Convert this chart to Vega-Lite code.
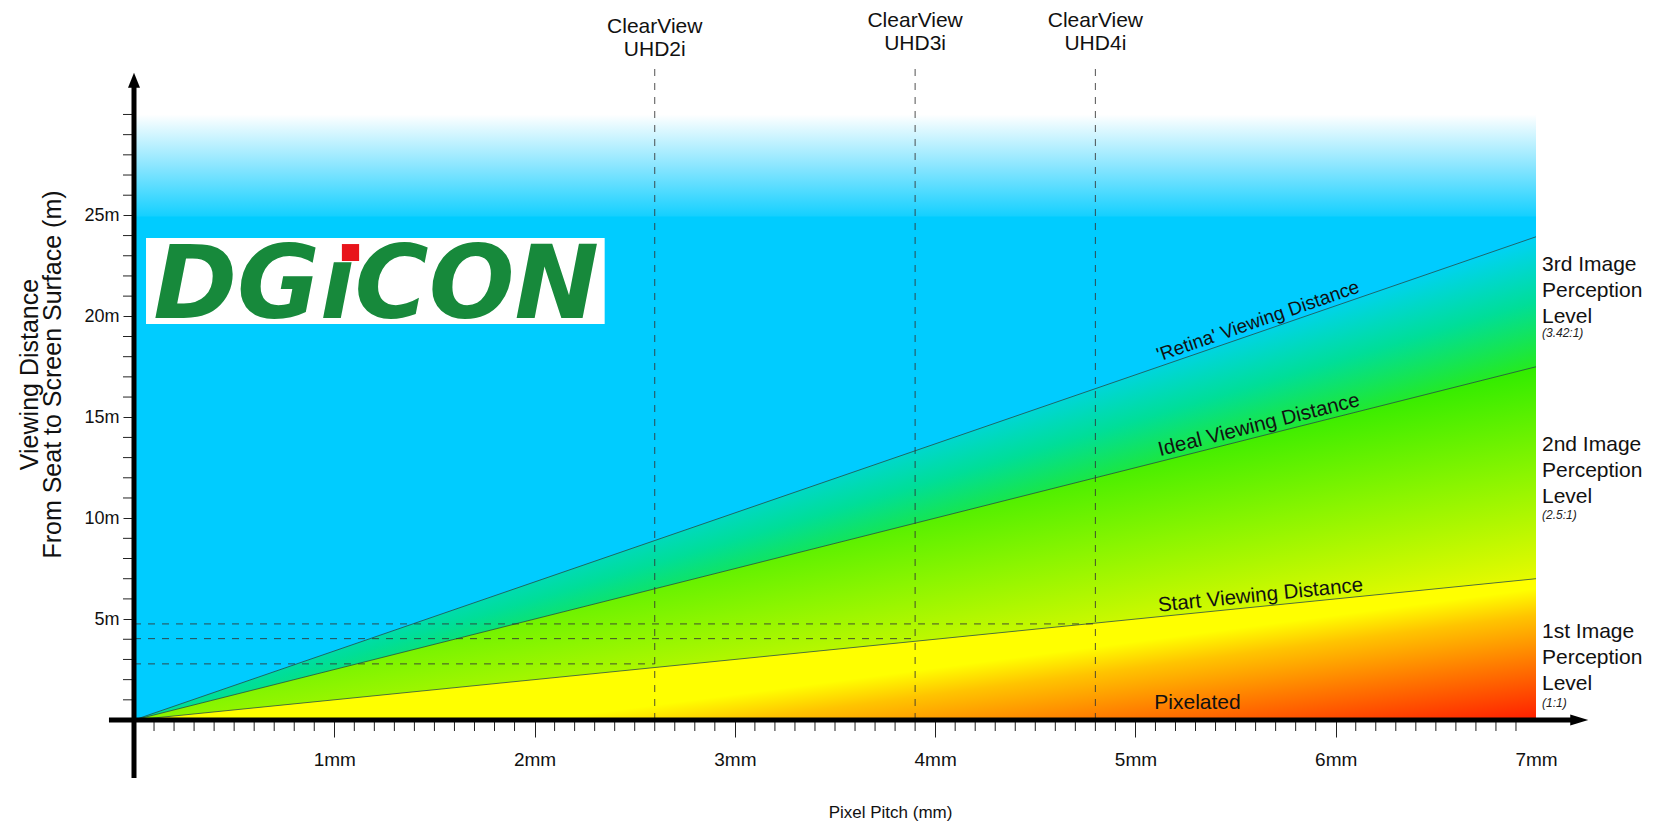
{
  "$schema": "https://vega.github.io/schema/vega-lite/v6.json",
  "width": 1402,
  "height": 656,
  "autosize": {"type": "none"},
  "padding": {"left": 134, "top": 64, "right": 129, "bottom": 109},
  "background": "#ffffff",
  "config": {"view": {"stroke": null}, "font": "Liberation Sans", "axis": {"labelOverlap": false, "labelFlush": false, "labelBound": false}},
  "datasets": {
    "pitch_minor": [
      {"pitch":0.1,"dist":0},{"pitch":0.2,"dist":0},{"pitch":0.3,"dist":0},{"pitch":0.4,"dist":0},{"pitch":0.5,"dist":0},{"pitch":0.6,"dist":0},{"pitch":0.7,"dist":0},{"pitch":0.8,"dist":0},{"pitch":0.9,"dist":0},
      {"pitch":1.1,"dist":0},{"pitch":1.2,"dist":0},{"pitch":1.3,"dist":0},{"pitch":1.4,"dist":0},{"pitch":1.5,"dist":0},{"pitch":1.6,"dist":0},{"pitch":1.7,"dist":0},{"pitch":1.8,"dist":0},{"pitch":1.9,"dist":0},
      {"pitch":2.1,"dist":0},{"pitch":2.2,"dist":0},{"pitch":2.3,"dist":0},{"pitch":2.4,"dist":0},{"pitch":2.5,"dist":0},{"pitch":2.6,"dist":0},{"pitch":2.7,"dist":0},{"pitch":2.8,"dist":0},{"pitch":2.9,"dist":0},
      {"pitch":3.1,"dist":0},{"pitch":3.2,"dist":0},{"pitch":3.3,"dist":0},{"pitch":3.4,"dist":0},{"pitch":3.5,"dist":0},{"pitch":3.6,"dist":0},{"pitch":3.7,"dist":0},{"pitch":3.8,"dist":0},{"pitch":3.9,"dist":0},
      {"pitch":4.1,"dist":0},{"pitch":4.2,"dist":0},{"pitch":4.3,"dist":0},{"pitch":4.4,"dist":0},{"pitch":4.5,"dist":0},{"pitch":4.6,"dist":0},{"pitch":4.7,"dist":0},{"pitch":4.8,"dist":0},{"pitch":4.9,"dist":0},
      {"pitch":5.1,"dist":0},{"pitch":5.2,"dist":0},{"pitch":5.3,"dist":0},{"pitch":5.4,"dist":0},{"pitch":5.5,"dist":0},{"pitch":5.6,"dist":0},{"pitch":5.7,"dist":0},{"pitch":5.8,"dist":0},{"pitch":5.9,"dist":0},
      {"pitch":6.1,"dist":0},{"pitch":6.2,"dist":0},{"pitch":6.3,"dist":0},{"pitch":6.4,"dist":0},{"pitch":6.5,"dist":0},{"pitch":6.6,"dist":0},{"pitch":6.7,"dist":0},{"pitch":6.8,"dist":0},{"pitch":6.9,"dist":0}
    ],
    "dist_minor": [
      {"pitch":0,"dist":1},{"pitch":0,"dist":2},{"pitch":0,"dist":3},{"pitch":0,"dist":4},
      {"pitch":0,"dist":6},{"pitch":0,"dist":7},{"pitch":0,"dist":8},{"pitch":0,"dist":9},
      {"pitch":0,"dist":11},{"pitch":0,"dist":12},{"pitch":0,"dist":13},{"pitch":0,"dist":14},
      {"pitch":0,"dist":16},{"pitch":0,"dist":17},{"pitch":0,"dist":18},{"pitch":0,"dist":19},
      {"pitch":0,"dist":21},{"pitch":0,"dist":22},{"pitch":0,"dist":23},{"pitch":0,"dist":24},
      {"pitch":0,"dist":26},{"pitch":0,"dist":27},{"pitch":0,"dist":28},{"pitch":0,"dist":29},{"pitch":0,"dist":30}
    ]
  },
  "layer": [
    {
      "data": {"values": [{"pitch": 0, "pitch_end": 7, "dist": 0, "dist_end": 25}]},
      "mark": {"type": "rect", "fill": "#00CCFF", "strokeWidth": 0},
      "encoding": {
        "x": {
          "field": "pitch", "type": "quantitative",
          "scale": {"domain": [0, 7], "nice": false, "zero": false},
          "axis": {
            "values": [1, 2, 3, 4, 5, 6, 7],
            "labelExpr": "datum.value + 'mm'",
            "domain": false, "grid": false,
            "tickColor": "#222", "tickWidth": 1, "tickSize": 17,
            "tickOpacity": {"condition": {"test": "datum.value > 6.95", "value": 0}, "value": 1},
            "labelFontSize": 19, "labelColor": "#111", "labelPadding": 13,
            "labelFlush": false, "labelOverlap": false, "labelBound": false,
            "title": "Pixel Pitch (mm)", "titleFontSize": 17, "titleFontWeight": "normal", "titleColor": "#111",
            "titleX": 756, "titleY": 92, "titleBaseline": "middle", "titleAlign": "center"
          }
        },
        "x2": {"field": "pitch_end"},
        "y": {
          "field": "dist", "type": "quantitative",
          "scale": {"domain": [0, 32.5], "nice": false, "zero": false},
          "axis": {
            "values": [5, 10, 15, 20, 25],
            "labelExpr": "datum.value + 'm'",
            "domain": false, "grid": false,
            "tickColor": "#222", "tickWidth": 1, "tickSize": 11,
            "labelFontSize": 18, "labelColor": "#111", "labelPadding": 4,
            "labelFlush": false, "labelOverlap": false, "labelBound": false,
            "title": ["Viewing Distance", "From Seat to Screen Surface  (m)"],
            "titleFontSize": 25, "titleFontWeight": "normal", "titleColor": "#111", "titleLineHeight": 23.5,
            "titleX": -105, "titleY": 310, "titleAngle": 270, "titleAlign": "center", "titleBaseline": "middle"
          }
        },
        "y2": {"field": "dist_end"}
      }
    },
    {
      "data": {"values": [{"pitch": 0, "pitch_end": 7, "dist": 24.95, "dist_end": 30.0}]},
      "mark": {"type": "rect", "strokeWidth": 0,
        "fill": {"gradient": "linear", "x1": 0, "y1": 1, "x2": 0, "y2": 0,
          "stops": [{"offset": 0, "color": "#14D0FF"}, {"offset": 0.5, "color": "#8CE6FF"}, {"offset": 1, "color": "#FFFFFF"}]}},
      "encoding": {
        "x": {"field": "pitch", "type": "quantitative"}, "x2": {"field": "pitch_end"},
        "y": {"field": "dist", "type": "quantitative"}, "y2": {"field": "dist_end"}
      }
    },
    {
      "data": {"values": [{"pitch": 0, "dist": 0, "dist_end": 0}, {"pitch": 7, "dist": 17.5, "dist_end": 23.94}]},
      "mark": {"type": "area", "strokeWidth": 0,
        "fill": {"gradient": "linear", "x1": 0.428, "y1": 0.494, "x2": 0.561, "y2": 0.648,
          "stops": [{"offset": 0, "color": "#00D2F6"}, {"offset": 0.5, "color": "#00DE98"}, {"offset": 1, "color": "#25EA20"}]}},
      "encoding": {
        "x": {"field": "pitch", "type": "quantitative"},
        "y": {"field": "dist", "type": "quantitative"}, "y2": {"field": "dist_end"}
      }
    },
    {
      "data": {"values": [{"pitch": 0, "dist": 0, "dist_end": 0}, {"pitch": 7, "dist": 7, "dist_end": 17.5}]},
      "mark": {"type": "area", "strokeWidth": 0,
        "fill": {"gradient": "linear", "x1": 0.328, "y1": 0.469, "x2": 0.61, "y2": 0.871,
          "stops": [{"offset": 0, "color": "#30EC00"}, {"offset": 0.5, "color": "#8AF500"}, {"offset": 1, "color": "#E5FA00"}]}},
      "encoding": {
        "x": {"field": "pitch", "type": "quantitative"},
        "y": {"field": "dist", "type": "quantitative"}, "y2": {"field": "dist_end"}
      }
    },
    {
      "data": {"values": [{"pitch": 0, "dist": 0, "dist_end": 0}, {"pitch": 7, "dist": 0, "dist_end": 7}]},
      "mark": {"type": "area", "strokeWidth": 0,
        "fill": {"gradient": "linear", "x1": 0.552, "y1": 0.658, "x2": 1, "y2": 1,
          "stops": [{"offset": 0, "color": "#FFFF00"}, {"offset": 0.2, "color": "#FFC400"}, {"offset": 0.55, "color": "#FF7A00"}, {"offset": 1, "color": "#FF1E00"}]}},
      "encoding": {
        "x": {"field": "pitch", "type": "quantitative"},
        "y": {"field": "dist", "type": "quantitative"}, "y2": {"field": "dist_end"}
      }
    },
    {
      "data": {"values": [
        {"line": "Retina", "pitch": 0, "pitch_end": 7, "dist": 0, "dist_end": 23.94},
        {"line": "Ideal", "pitch": 0, "pitch_end": 7, "dist": 0, "dist_end": 17.5},
        {"line": "Start", "pitch": 0, "pitch_end": 7, "dist": 0, "dist_end": 7}
      ]},
      "mark": {"type": "rule", "stroke": "#2a3a30", "strokeWidth": 1, "opacity": 0.7},
      "encoding": {
        "x": {"field": "pitch", "type": "quantitative"}, "x2": {"field": "pitch_end"},
        "y": {"field": "dist", "type": "quantitative"}, "y2": {"field": "dist_end"}
      }
    },
    {
      "data": {"values": [
        {"model": "UHD2i", "origin": 0, "pitch": 2.6, "start": 2.78, "top": 32.4},
        {"model": "UHD3i", "origin": 0, "pitch": 3.9, "start": 4.03, "top": 32.4},
        {"model": "UHD4i", "origin": 0, "pitch": 4.8, "start": 4.76, "top": 32.4}
      ]},
      "layer": [
        {
          "mark": {"type": "rule", "stroke": "#333333", "strokeWidth": 1, "strokeDash": [7, 7], "opacity": 0.85},
          "encoding": {
            "x": {"field": "origin", "type": "quantitative"}, "x2": {"field": "pitch"},
            "y": {"field": "start", "type": "quantitative"}
          }
        },
        {
          "mark": {"type": "rule", "stroke": "#333333", "strokeWidth": 1, "strokeDash": [7, 7], "opacity": 0.85},
          "encoding": {
            "x": {"field": "pitch", "type": "quantitative"},
            "y": {"field": "origin", "type": "quantitative"}, "y2": {"field": "top"}
          }
        }
      ]
    },
    {
      "data": {"values": [
        {"label": "ClearView\nUHD2i", "pitch": 2.6, "dist": 34.35},
        {"label": "ClearView\nUHD3i", "pitch": 3.9, "dist": 34.62},
        {"label": "ClearView\nUHD4i", "pitch": 4.8, "dist": 34.62}
      ]},
      "mark": {"type": "text", "fontSize": 21, "lineBreak": "\n", "lineHeight": 23, "align": "center", "baseline": "middle", "color": "#111"},
      "encoding": {
        "x": {"field": "pitch", "type": "quantitative"},
        "y": {"field": "dist", "type": "quantitative"},
        "text": {"field": "label"}
      }
    },
    {
      "data": {"values": [{"pitch": 0.06, "pitch_end": 2.35, "dist": 19.62, "dist_end": 23.88}]},
      "mark": {"type": "rect", "fill": "#ffffff", "strokeWidth": 0},
      "encoding": {
        "x": {"field": "pitch", "type": "quantitative"}, "x2": {"field": "pitch_end"},
        "y": {"field": "dist", "type": "quantitative"}, "y2": {"field": "dist_end"}
      }
    },
    {
      "data": {"values": [{"brand": "DGıCON", "pitch": 1.209, "dist": 19.92}]},
      "mark": {"type": "text", "font": "DejaVu Sans", "fontWeight": "bold", "fontStyle": "italic", "fontSize": 101, "align": "center", "baseline": "alphabetic", "color": "#17893B"},
      "encoding": {
        "x": {"field": "pitch", "type": "quantitative"},
        "y": {"field": "dist", "type": "quantitative"},
        "text": {"field": "brand"}
      }
    },
    {
      "data": {"values": [{"pitch": 1.038, "pitch_end": 1.124, "dist": 22.74, "dist_end": 23.58}]},
      "mark": {"type": "rect", "fill": "#E8141B", "strokeWidth": 0},
      "encoding": {
        "x": {"field": "pitch", "type": "quantitative"}, "x2": {"field": "pitch_end"},
        "y": {"field": "dist", "type": "quantitative"}, "y2": {"field": "dist_end"}
      }
    },
    {
      "data": {"values": [{"label": "'Retina' Viewing Distance", "pitch": 5.63, "dist": 19.25}]},
      "mark": {"type": "text", "fontSize": 19, "angle": -19.0, "align": "center", "baseline": "bottom", "dy": -1, "color": "#111"},
      "encoding": {"x": {"field": "pitch", "type": "quantitative"}, "y": {"field": "dist", "type": "quantitative"}, "text": {"field": "label"}}
    },
    {
      "data": {"values": [{"label": "Ideal Viewing Distance", "pitch": 5.63, "dist": 14.08}]},
      "mark": {"type": "text", "fontSize": 20.5, "angle": -14.14, "align": "center", "baseline": "bottom", "dy": -1, "color": "#111"},
      "encoding": {"x": {"field": "pitch", "type": "quantitative"}, "y": {"field": "dist", "type": "quantitative"}, "text": {"field": "label"}}
    },
    {
      "data": {"values": [{"label": "Start Viewing Distance", "pitch": 5.63, "dist": 5.63}]},
      "mark": {"type": "text", "fontSize": 20.5, "angle": -5.75, "align": "center", "baseline": "bottom", "dy": -1, "color": "#111"},
      "encoding": {"x": {"field": "pitch", "type": "quantitative"}, "y": {"field": "dist", "type": "quantitative"}, "text": {"field": "label"}}
    },
    {
      "data": {"values": [{"label": "Pixelated", "pitch": 5.31, "dist": 0.84}]},
      "mark": {"type": "text", "fontSize": 21, "align": "center", "baseline": "middle", "color": "#111"},
      "encoding": {"x": {"field": "pitch", "type": "quantitative"}, "y": {"field": "dist", "type": "quantitative"}, "text": {"field": "label"}}
    },
    {
      "data": {"values": [
        {"level": "3rd Image\nPerception\nLevel", "ratio": "(3.42:1)", "pitch": 7, "dist": 23.07, "ratio_dist": 19.17},
        {"level": "2nd Image\nPerception\nLevel", "ratio": "(2.5:1)", "pitch": 7, "dist": 14.19, "ratio_dist": 10.18},
        {"level": "1st Image\nPerception\nLevel", "ratio": "(1:1)", "pitch": 7, "dist": 4.89, "ratio_dist": 0.84}
      ]},
      "layer": [
        {
          "mark": {"type": "text", "fontSize": 21, "lineBreak": "\n", "lineHeight": 26, "align": "left", "baseline": "top", "dx": 6, "color": "#111"},
          "encoding": {"x": {"field": "pitch", "type": "quantitative"}, "y": {"field": "dist", "type": "quantitative"}, "text": {"field": "level"}}
        },
        {
          "mark": {"type": "text", "fontSize": 12, "fontStyle": "italic", "align": "left", "baseline": "middle", "dx": 6, "color": "#222"},
          "encoding": {"x": {"field": "pitch", "type": "quantitative"}, "y": {"field": "ratio_dist", "type": "quantitative"}, "text": {"field": "ratio"}}
        }
      ]
    },
    {
      "data": {"name": "pitch_minor"},
      "mark": {"type": "tick", "orient": "vertical", "size": 11, "thickness": 1, "color": "#222222", "opacity": 1, "yOffset": 5.5},
      "encoding": {"x": {"field": "pitch", "type": "quantitative"}, "y": {"field": "dist", "type": "quantitative"}}
    },
    {
      "data": {"name": "dist_minor"},
      "mark": {"type": "tick", "orient": "horizontal", "size": 11, "thickness": 1, "color": "#222222", "opacity": 1, "xOffset": -5.5},
      "encoding": {"x": {"field": "pitch", "type": "quantitative"}, "y": {"field": "dist", "type": "quantitative"}}
    },
    {
      "data": {"values": [{"pitch": -0.125, "pitch_end": 7.18, "dist": 0}]},
      "mark": {"type": "rule", "stroke": "#000000", "strokeWidth": 5},
      "encoding": {"x": {"field": "pitch", "type": "quantitative"}, "x2": {"field": "pitch_end"}, "y": {"field": "dist", "type": "quantitative"}}
    },
    {
      "data": {"values": [{"pitch": 0, "dist": -2.87, "dist_end": 31.4}]},
      "mark": {"type": "rule", "stroke": "#000000", "strokeWidth": 5},
      "encoding": {"x": {"field": "pitch", "type": "quantitative"}, "y": {"field": "dist", "type": "quantitative"}, "y2": {"field": "dist_end"}}
    },
    {
      "data": {"values": [{"pitch": 7.216, "dist": 0}]},
      "mark": {"type": "point", "filled": true, "fill": "#000000", "strokeWidth": 0, "opacity": 1, "size": 324, "shape": "M-1,-0.6L1,0L-1,0.6Z"},
      "encoding": {"x": {"field": "pitch", "type": "quantitative"}, "y": {"field": "dist", "type": "quantitative"}}
    },
    {
      "data": {"values": [{"pitch": 0, "dist": 31.69}]},
      "mark": {"type": "point", "filled": true, "fill": "#000000", "strokeWidth": 0, "opacity": 1, "size": 225, "shape": "M-0.8,1L0,-1L0.8,1Z"},
      "encoding": {"x": {"field": "pitch", "type": "quantitative"}, "y": {"field": "dist", "type": "quantitative"}}
    }
  ]
}
